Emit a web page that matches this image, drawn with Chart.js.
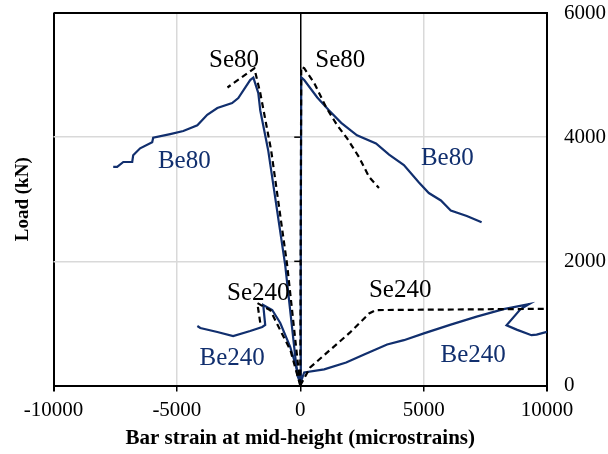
<!DOCTYPE html>
<html>
<head>
<meta charset="utf-8">
<script src="https://cdn.jsdelivr.net/npm/chart.js@4"></script>
<style>
  html, body { margin: 0; padding: 0; background: #fff; }
  #wrap { width: 608px; height: 454px; }
</style>
</head>
<body>
<div id="wrap"><canvas id="chart" width="608" height="454"></canvas></div>
<script>
// strain (microstrains) and load (kN)
const be80NegStrain = [-20, -120, -610, -1300, -1620, -1700, -1900, -2030, -2510, -2760, -3360, -3770, -4170, -4740, -5270, -5960, -6000, -6490, -6770, -6810, -7170, -7420, -7580];
const be80NegLoad   = [60, 170, 1940, 3790, 4430, 4710, 4960, 4920, 4630, 4550, 4470, 4360, 4190, 4100, 4050, 3990, 3920, 3820, 3710, 3600, 3600, 3520, 3520];
const se80NegStrain = [0, -530, -1180, -1620, -1860, -2950];
const se80NegLoad   = [0, 1940, 3790, 4710, 5110, 4800];

const be80PosStrain = [0, 20, 40, 160, 690, 1170, 1660, 2300, 3070, 3600, 4200, 4810, 5210, 5700, 6100, 6750, 7350];
const be80PosLoad   = [30, 2000, 4965, 4920, 4640, 4430, 4230, 4030, 3900, 3720, 3550, 3270, 3100, 2980, 2820, 2730, 2630];
const se80PosStrain = [0, 20, 40, 160, 570, 1050, 1500, 1900, 2380, 2790, 3190];
const se80PosLoad   = [0, 2500, 5130, 5110, 4870, 4480, 4190, 3980, 3680, 3360, 3180];

const be240NegStrain = [0, -40, -405, -810, -1135, -1500, -1420, -1540, -2030, -2720, -3360, -4050, -4170];
const be240NegLoad   = [30, 137, 620, 1006, 1216, 1296, 974, 942, 877, 797, 861, 926, 958];
const se240NegStrain = [0, -400, -810, -1210, -1740, -1620];
const se240NegLoad   = [0, 570, 890, 1210, 1328, 1006];

const be240PosStrain = [0, 160, 970, 1860, 2590, 3520, 4200, 5010, 6100, 7150, 8240, 9280, 8930, 8360, 8770, 9370, 9580, 10000];
const be240PosLoad   = [30, 210, 260, 370, 500, 660, 730, 840, 980, 1110, 1230, 1312, 1230, 970, 900, 810, 820, 865];
const se240PosStrain = [0, 400, 2020, 2790, 3070, 10000];
const se240PosLoad   = [0, 290, 855, 1160, 1215, 1235];

const xTicks = [-10000, -5000, 0, 5000, 10000];
const yTicks = [0, 2000, 4000, 6000];

const seriesNames = ['Se80', 'Se80', 'Be80', 'Be80', 'Se240', 'Se240', 'Be240', 'Be240'];
const nameStrain  = [-2680, 1620, -4700, 5960, -1700, 4050, -2760, 7010];
const nameLoad    = [5240, 5240, 3610, 3650, 1490, 1535, 430, 490];

const navy = '#112f6e';
const serif = '"Liberation Serif", "Times New Roman", serif';

const pts = (xs, ys) => xs.map((x, i) => ({x: x, y: ys[i]}));
const solid = (xs, ys) => ({
    data: pts(xs, ys), borderColor: navy, borderWidth: 2.2, showLine: true,
    pointRadius: 0, fill: false, tension: 0, order: 2
});
const dashed = (xs, ys) => ({
    data: pts(xs, ys), borderColor: '#000', borderWidth: 2.2, borderDash: [6, 4], showLine: true,
    pointRadius: 0, fill: false, tension: 0, order: 1
});

const edge = (v, a, b) => v === a || v === b;

const labelPlugin = {
    id: 'labels',
    afterDatasetsDraw(chart) {
        const {ctx, scales: {x, y}} = chart;
        ctx.save();
        // little tick marks on the zero line
        const x0 = x.getPixelForValue(0);
        ctx.strokeStyle = '#000';
        ctx.lineWidth = 1.5;
        yTicks.forEach(v => {
            if (v === 0) return;
            const py = y.getPixelForValue(v);
            ctx.beginPath();
            ctx.moveTo(x0 - 6, py);
            ctx.lineTo(x0, py);
            ctx.stroke();
        });
        ctx.font = '25px ' + serif;
        ctx.textAlign = 'center';
        ctx.textBaseline = 'middle';
        seriesNames.forEach((n, i) => {
            ctx.fillStyle = n.startsWith('Se') ? '#000' : navy;
            ctx.fillText(n, x.getPixelForValue(nameStrain[i]), y.getPixelForValue(nameLoad[i]));
        });
        ctx.restore();
    }
};

new Chart(document.getElementById('chart'), {
    type: 'scatter',
    data: {
        datasets: [
            dashed(se80NegStrain, se80NegLoad),
            dashed(se80PosStrain, se80PosLoad),
            dashed(se240NegStrain, se240NegLoad),
            dashed(se240PosStrain, se240PosLoad),
            solid(be80NegStrain, be80NegLoad),
            solid(be80PosStrain, be80PosLoad),
            solid(be240NegStrain, be240NegLoad),
            solid(be240PosStrain, be240PosLoad)
        ]
    },
    options: {
        responsive: false,
        animation: false,
        layout: { padding: { top: 13, right: 0, bottom: 0, left: 0 } },
        plugins: { legend: { display: false }, tooltip: { enabled: false } },
        scales: {
            x: {
                type: 'linear',
                min: -10000,
                max: 10000,
                afterBuildTicks: s => { s.ticks = xTicks.map(v => ({value: v})); },
                afterFit: s => { s.height = 68.5; },
                ticks: { font: { family: serif, size: 21 }, color: '#000', padding: 6, maxRotation: 0, callback: v => String(v) },
                grid: {
                    color: c => edge(c.tick.value, -10000, 10000) || c.tick.value === 0 ? '#000' : '#d9d9d9',
                    lineWidth: c => edge(c.tick.value, -10000, 10000) ? 2 : 1.5,
                    tickColor: '#000',
                    tickLength: 6
                },
                border: { color: '#000', width: 2 },
                title: {
                    display: true,
                    text: 'Bar strain at mid-height (microstrains)',
                    font: { family: serif, size: 21, weight: 'bold' },
                    color: '#000',
                    padding: { top: 4, bottom: 3 }
                }
            },
            y: {
                position: 'right',
                min: 0,
                max: 6000,
                afterBuildTicks: s => { s.ticks = yTicks.map(v => ({value: v})); },
                afterFit: s => { s.width = 61; },
                ticks: { font: { family: serif, size: 21 }, color: '#000', padding: 0, callback: v => String(v) },
                grid: {
                    color: c => edge(c.tick.value, 0, 6000) ? '#000' : '#d9d9d9',
                    lineWidth: c => edge(c.tick.value, 0, 6000) ? 2 : 1.5,
                    drawTicks: true,
                    tickLength: 17,
                    tickColor: 'rgba(0,0,0,0)'
                },
                border: { color: '#000', width: 2 }
            },
            yTitle: {
                position: 'left',
                min: 0,
                max: 6000,
                afterFit: s => { s.width = 53.5; },
                ticks: { display: false },
                grid: { display: false, drawTicks: false },
                border: { display: false },
                title: {
                    display: true,
                    text: 'Load (kN)',
                    font: { family: serif, size: 19, weight: 'bold' },
                    color: '#000',
                    padding: { top: 12, bottom: 0 }
                }
            }
        }
    },
    plugins: [labelPlugin]
});
</script>
</body>
</html>
